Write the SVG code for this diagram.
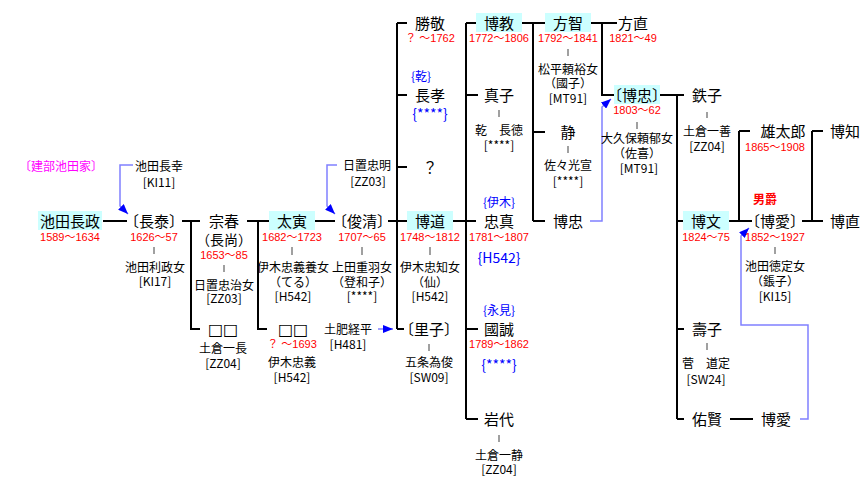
<svg xmlns="http://www.w3.org/2000/svg" width="865" height="496" viewBox="0 0 865 496">
<style>
text{font-family:"Noto Sans CJK JP","Noto Sans CJK SC",sans-serif;text-anchor:middle;fill:#000}
.n{font-size:15px}
.s{font-size:12px}
.m{font-size:14px}
.sq{font-family:"DejaVu Sans",sans-serif;font-size:16px}
.d{font-family:"Liberation Sans","Noto Sans CJK JP",sans-serif;font-size:11px;fill:#ff0000}
.bl{fill:#0000ff}
.mg{fill:#ff00ff}
.rd{fill:#ff0000;font-weight:bold}
.hl{fill:#ccffff}
.tk{stroke:#808080;stroke-width:1.5}
.ln{stroke:#000;stroke-width:2;fill:none}
.ar{stroke:#8080ff;stroke-width:1.5;fill:none;marker-end:url(#ah)}
</style>
<defs>
<marker id="ah" viewBox="0 0 10 8" refX="10" refY="4" markerWidth="10" markerHeight="8" markerUnits="userSpaceOnUse" orient="auto"><path d="M0,0 L10,4 L0,8 z" fill="#0000ff"/></marker>
</defs>
<rect width="865" height="496" fill="#fff"/>
<g id="connectors">
<path class="ln" d="M103,221H127M182,221H200M191,221V329H200M247,221H269M258,221V329H267M315,221H335M388,221H407M397,23V329M397,23H407M397,95H407M397,167H407M397,329H404M453,221H476M466,23V419M466,23H476M466,95H478M466,329H478M466,419H478M522,23H545M533,23V221M533,132H545M533,221H545M591,23H617M602,23V95H614M660,95H684M677,95V419M677,221H683M677,329H684M677,419H684M729,221H752M739,131V221M739,131H750M802,221H823M812,131V221M812,131H823M730,419H753"/>
<path class="ar" d="M133,165H120V206L128,214"/>
<path class="ar" d="M337,165H327V206L335,214"/>
<path class="ar" d="M378,329H393"/>
<path class="ar" d="M590,221H602V107L611,99"/>
<path class="ar" d="M800,419H808V325H741V236L749,228"/>
</g>
<g id="label-takebe"><text class="s mg" x="61" y="170.5">〔建部池田家〕</text></g>
<g id="n-nagamasa"><rect class="hl" x="38" y="211" width="64" height="19"/><text class="n" x="70" y="226.5">池田長政</text><text class="d" x="70" y="241">1589～1634</text></g>
<g id="n-nagayuki"><text class="s" x="159" y="171">池田長幸</text><text class="s" x="159" y="186.5">[KI11]</text></g>
<g id="n-nagayasu"><text class="n" x="154" y="226.5">〔長泰〕</text><text class="d" x="154" y="241">1626～57</text><line class="tk" x1="154" y1="247" x2="154" y2="254"/><text class="s" x="155" y="271.5">池田利政女</text><text class="s" x="155" y="286">[KI17]</text></g>
<g id="n-muneharu"><text class="n" x="224" y="226.5">宗春</text><text class="m" x="224" y="244.5">（長尚）</text><text class="d" x="224" y="258.5">1653～85</text><line class="tk" x1="224" y1="265" x2="224" y2="272"/><text class="s" x="224" y="289.5">日置忠治女</text><text class="s" x="224" y="303">[ZZ03]</text></g>
<g id="n-sq1"><text class="sq" x="223" y="335">□□</text><text class="s" x="223" y="352.5">土倉一長</text><text class="s" x="223" y="367.5">[ZZ04]</text></g>
<g id="n-taiin"><rect class="hl" x="269" y="211" width="46" height="19"/><text class="n" x="292" y="226.5">太寅</text><text class="d" x="292" y="241">1682～1723</text><line class="tk" x1="292" y1="247" x2="292" y2="255"/><text class="s" x="293" y="272">伊木忠義養女</text><text class="s" x="293" y="286.5">（てる）</text><text class="s" x="293" y="301">[H542]</text></g>
<g id="n-sq2"><text class="sq" x="293" y="335">□□</text><text class="d" x="292" y="348">？ ～1693</text><text class="s" x="292" y="366.5">伊木忠義</text><text class="s" x="292" y="381.5">[H542]</text></g>
<g id="n-dohi"><text class="s" x="348" y="333.5">土肥経平</text><text class="s" x="348" y="348.5">[H481]</text></g>
<g id="n-toshikiyo"><text class="n" x="362" y="226.5">〔俊清〕</text><text class="d" x="362" y="241">1707～65</text><line class="tk" x1="362" y1="247" x2="362" y2="255"/><text class="s" x="362" y="272">上田重羽女</text><text class="s" x="362" y="286.5">（登和子）</text><text class="s" x="362" y="301">[****]</text></g>
<g id="n-tadaaki"><text class="s" x="367" y="169.5">日置忠明</text><text class="s" x="368" y="185.5">[ZZ03]</text></g>
<g id="n-katsutaka"><text class="n" x="430" y="28.5">勝敬</text><text class="d" x="430" y="42">？ ～1762</text></g>
<g id="n-nagataka"><text class="s bl" x="421" y="80.5">{乾}</text><text class="n" x="430" y="100.5">長孝</text><text class="m bl" x="430" y="118.5">{****}</text></g>
<g id="n-unknown"><text class="n" x="430" y="172.5">？</text></g>
<g id="n-hiromichi"><rect class="hl" x="407" y="211" width="46" height="19"/><text class="n" x="430" y="226.5">博道</text><text class="d" x="430" y="241">1748～1812</text><line class="tk" x1="430" y1="247" x2="430" y2="255"/><text class="s" x="430" y="272">伊木忠知女</text><text class="s" x="430" y="286.5">（仙）</text><text class="s" x="430" y="301">[H542]</text></g>
<g id="n-satoko"><text class="n" x="429" y="334.5">〔里子〕</text><line class="tk" x1="429" y1="344" x2="429" y2="351"/><text class="s" x="429" y="367">五条為俊</text><text class="s" x="429" y="381.5">[SW09]</text></g>
<g id="n-hironori"><rect class="hl" x="476" y="13" width="46" height="19"/><text class="n" x="499" y="28.5">博教</text><text class="d" x="499" y="42">1772～1806</text></g>
<g id="n-masako"><text class="n" x="499" y="100.5">真子</text><line class="tk" x1="499" y1="110" x2="499" y2="117"/><text class="s" x="499" y="134.5">乾　長徳</text><text class="s" x="499" y="150">[****]</text></g>
<g id="n-tadazane"><text class="s bl" x="499" y="207">{伊木}</text><text class="n" x="499" y="226.5">忠真</text><text class="d" x="499" y="241">1781～1807</text><text class="m bl" x="499" y="263">{H542}</text></g>
<g id="n-kuninobu"><text class="s bl" x="499" y="315">{永見}</text><text class="n" x="499" y="334.5">國誠</text><text class="d" x="499" y="348">1789～1862</text><text class="m bl" x="499" y="370">{****}</text></g>
<g id="n-iwashiro"><text class="n" x="499" y="424.5">岩代</text><line class="tk" x1="499" y1="435" x2="499" y2="442"/><text class="s" x="499" y="459.5">土倉一静</text><text class="s" x="499" y="474">[ZZ04]</text></g>
<g id="n-hotomo"><rect class="hl" x="545" y="13" width="46" height="19"/><text class="n" x="568" y="28.5">方智</text><text class="d" x="568" y="42">1792～1841</text><line class="tk" x1="568" y1="49" x2="568" y2="56"/><text class="s" x="568" y="73.5">松平頼裕女</text><text class="s" x="568" y="88">（國子）</text><text class="s" x="568" y="102.5">[MT91]</text></g>
<g id="n-shizu"><text class="n" x="568" y="137.5">静</text><line class="tk" x1="568" y1="146" x2="568" y2="153"/><text class="s" x="568" y="169.5">佐々光宣</text><text class="s" x="568" y="185.5">[****]</text></g>
<g id="n-hirotada-a"><text class="n" x="568" y="226.5">博忠</text></g>
<g id="n-honao"><text class="n" x="633" y="28.5">方直</text><text class="d" x="633" y="42">1821～49</text></g>
<g id="n-hirotada"><rect class="hl" x="614" y="85" width="46" height="19"/><text class="n" x="637" y="100.5">〔博忠〕</text><text class="d" x="637" y="114">1803～62</text><line class="tk" x1="637" y1="122" x2="637" y2="129"/><text class="s" x="637" y="143">大久保頼郁女</text><text class="s" x="637" y="158">（佐喜）</text><text class="s" x="639" y="173">[MT91]</text></g>
<g id="n-tetsuko"><text class="n" x="707" y="100.5">鉄子</text><line class="tk" x1="707" y1="112" x2="707" y2="118"/><text class="s" x="707" y="136">土倉一善</text><text class="s" x="707" y="150.5">[ZZ04]</text></g>
<g id="n-hirofumi"><rect class="hl" x="683" y="211" width="46" height="19"/><text class="n" x="706" y="226.5">博文</text><text class="d" x="706" y="241">1824～75</text></g>
<g id="n-yutaro"><text class="n" x="783" y="137">雄太郎</text><text class="d" x="775" y="151">1865～1908</text></g>
<g id="n-hirochika"><text class="s rd" x="765" y="204">男爵</text><text class="n" x="775" y="226.5">〔博愛〕</text><text class="d" x="775" y="241">1852～1927</text><line class="tk" x1="775" y1="247" x2="775" y2="254"/><text class="s" x="775" y="271">池田徳定女</text><text class="s" x="775" y="286">（鋹子）</text><text class="s" x="775" y="300.5">[KI15]</text></g>
<g id="n-hirotomo"><text class="n" x="845" y="137">博知</text></g>
<g id="n-hironao"><text class="n" x="845" y="226.5">博直</text></g>
<g id="n-hisako"><text class="n" x="707" y="334.5">壽子</text><line class="tk" x1="707" y1="343" x2="707" y2="350"/><text class="s" x="706" y="367.5">菅　道定</text><text class="s" x="706" y="383.5">[SW24]</text></g>
<g id="n-sukekata"><text class="n" x="707" y="424.5">佑賢</text></g>
<g id="n-hirochika-b"><text class="n" x="776" y="424.5">博愛</text></g>
</svg>
